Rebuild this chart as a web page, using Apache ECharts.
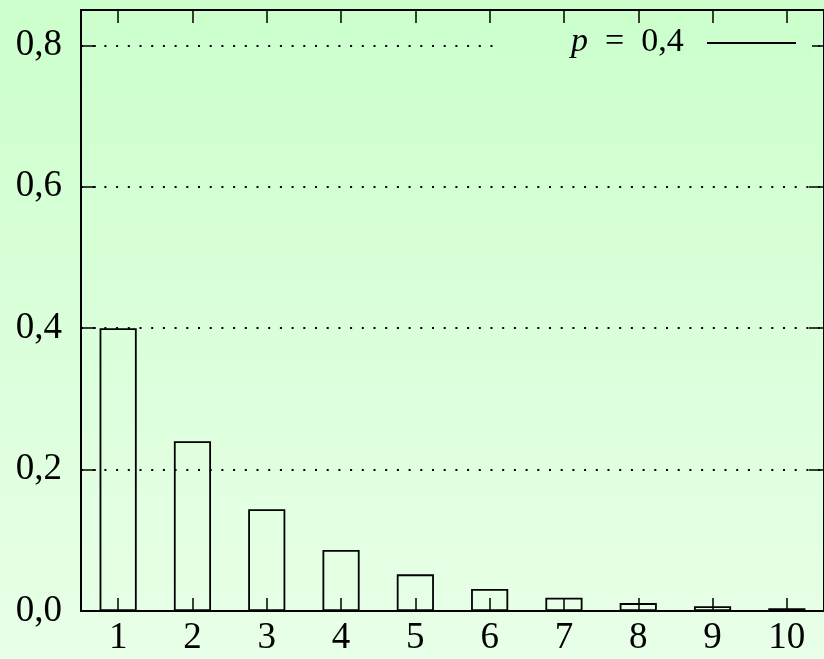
<!DOCTYPE html>
<html>
<head>
<meta charset="utf-8">
<script src="https://cdn.jsdelivr.net/npm/echarts@6/dist/echarts.min.js"></script>
<style>
  html, body { margin: 0; padding: 0; }
  #chart { width: 824px; height: 659px; }
</style>
</head>
<body>
<div id="chart"></div>
<script>
// Geometric distribution P(X = k), p = 0,4
const categories = ['1', '2', '3', '4', '5', '6', '7', '8', '9', '10'];
const probabilities = [0.4, 0.24, 0.144, 0.0864, 0.0518, 0.0311, 0.0187, 0.0112, 0.0067, 0.0040];
const yTicks = [0, 0.2, 0.4, 0.6, 0.8];
const legendLabel = 'p = 0,4';

const serif = '"Liberation Serif", "DejaVu Serif", serif';
const fmtComma = v => v.toFixed(1).replace('.', ',');

const chart = echarts.init(document.getElementById('chart'));

const option = {
  animation: false,
  backgroundColor: {
    type: 'linear', x: 0, y: 0, x2: 0, y2: 1,
    colorStops: [
      { offset: 0, color: '#ccffcc' },
      { offset: 1, color: '#e8ffe8' }
    ]
  },
  grid: { left: 81, right: -7, top: 10, bottom: 48, containLabel: false },
  xAxis: [
    {
      type: 'category',
      data: categories,
      position: 'bottom',
      boundaryGap: true,
      axisLine: { show: true, onZero: false, lineStyle: { color: '#000', width: 2 } },
      axisTick: { show: true, inside: true, length: 13, alignWithLabel: true, lineStyle: { color: '#000', width: 1.5 } },
      axisLabel: { color: '#000', fontFamily: serif, fontSize: 37, margin: 9 },
      splitLine: { show: false },
      z: 5
    },
    {
      type: 'category',
      data: categories,
      position: 'top',
      boundaryGap: true,
      axisLine: { show: true, onZero: false, lineStyle: { color: '#000', width: 2 } },
      axisTick: { show: true, inside: true, length: 13, alignWithLabel: true, lineStyle: { color: '#000', width: 1.5 } },
      axisLabel: { show: false },
      splitLine: { show: false },
      z: 5
    }
  ],
  yAxis: [
    {
      type: 'value',
      min: 0,
      max: 0.85,
      interval: 0.2,
      position: 'left',
      axisLine: { show: true, onZero: false, lineStyle: { color: '#000', width: 2 } },
      axisTick: { show: true, inside: true, length: 15, lineStyle: { color: '#000', width: 1.5 } },
      axisLabel: {
        color: '#000', fontFamily: serif, fontSize: 37, margin: 19,
        showMaxLabel: false,
        formatter: v => yTicks.some(t => Math.abs(t - v) < 1e-9) ? fmtComma(v) : ''
      },
      splitLine: { show: true, lineStyle: { color: '#000', width: 2, type: [2, 9.7] } }
    },
    {
      type: 'value',
      min: 0,
      max: 0.85,
      interval: 0.2,
      position: 'right',
      axisLine: { show: true, onZero: false, lineStyle: { color: '#000', width: 2 } },
      axisTick: { show: true, inside: true, length: 15, lineStyle: { color: '#000', width: 1.5 } },
      axisLabel: { show: false },
      splitLine: { show: false }
    }
  ],
  series: [
    {
      type: 'bar',
      name: legendLabel,
      data: probabilities,
      xAxisIndex: 0,
      yAxisIndex: 0,
      barWidth: '50%',
      itemStyle: { color: 'rgba(0,0,0,0)', borderColor: '#000', borderWidth: 1.8 },
      z: 1
    }
  ],
  graphic: [
    // key area: keeps the 0,8 grid line clear behind the key
    {
      type: 'rect',
      shape: { x: 494, y: 30, width: 318, height: 28 },
      style: { fill: '#cdfecd' },
      z: 50
    },
    {
      type: 'text',
      left: 571, top: 25,
      style: {
        rich: {
          i: { fontFamily: serif, fontStyle: 'italic', fontSize: 34, fill: '#000' },
          r: { fontFamily: serif, fontSize: 34, fill: '#000' }
        },
        text: '{i|p}{r|  =  0,4}'
      },
      z: 51
    },
    {
      type: 'line',
      shape: { x1: 707, y1: 43, x2: 796, y2: 43 },
      style: { stroke: '#000', lineWidth: 2 },
      z: 51
    }
  ]
};

chart.setOption(option);
</script>
</body>
</html>
